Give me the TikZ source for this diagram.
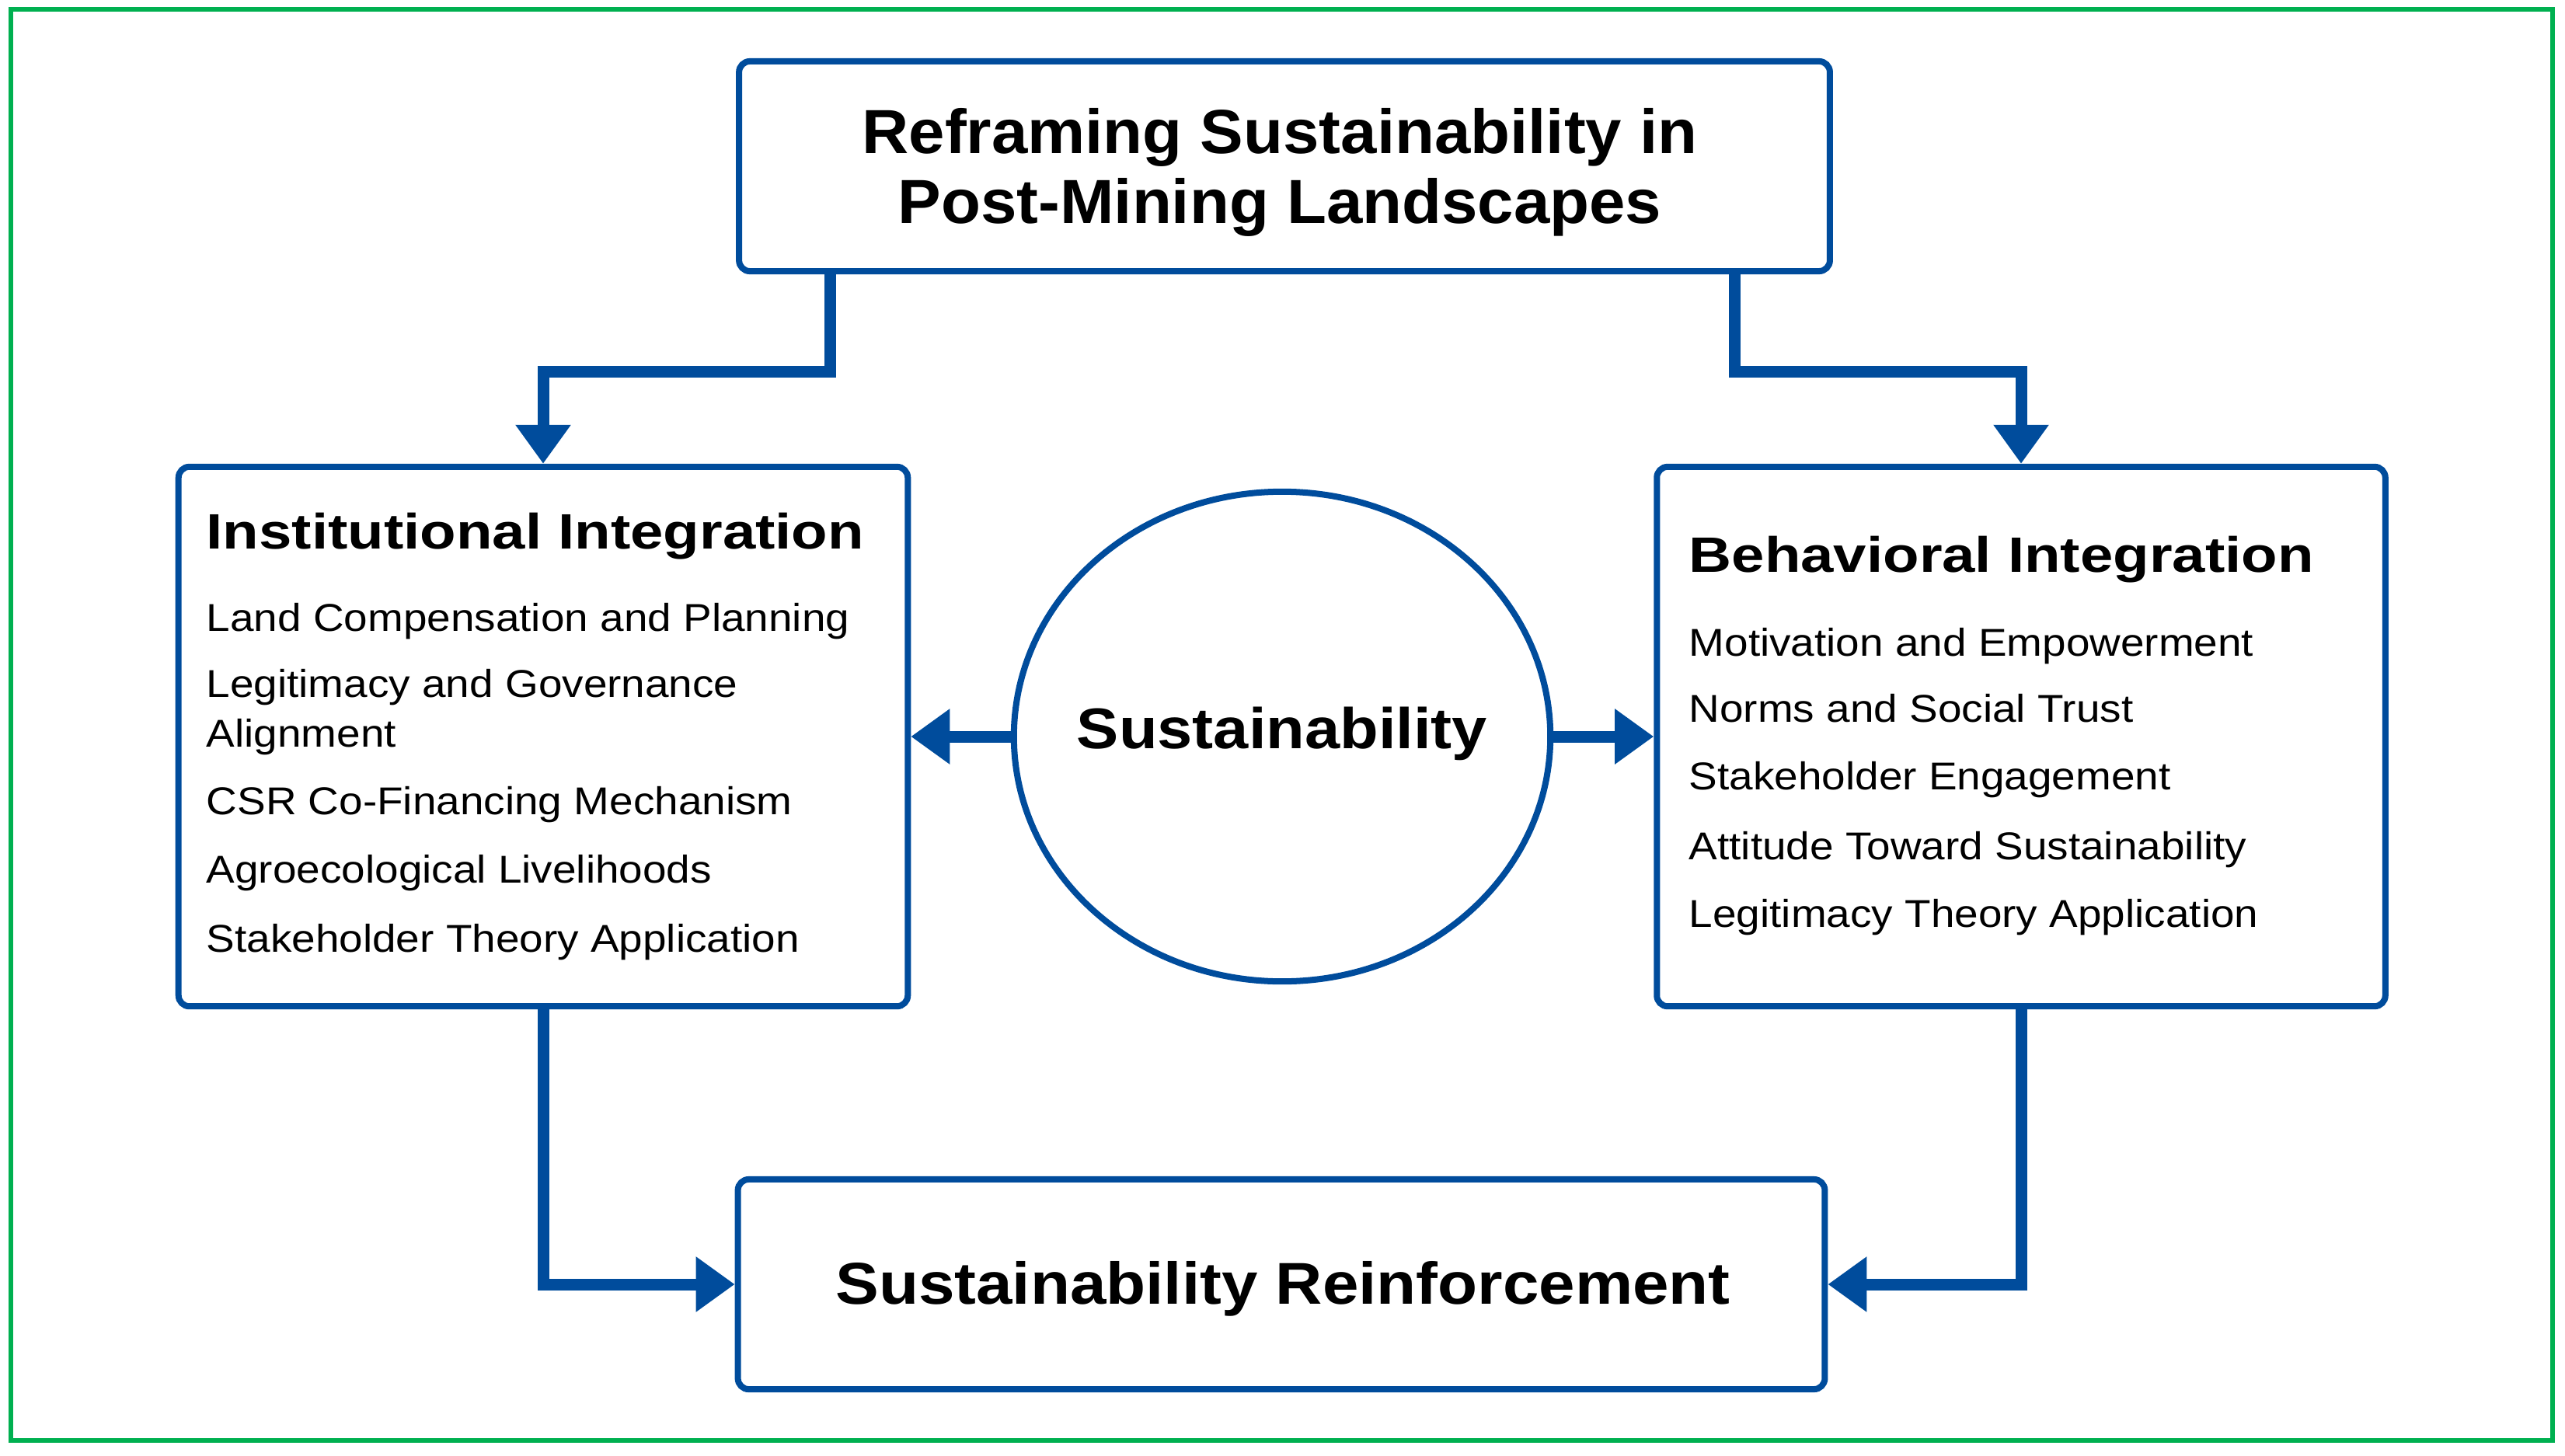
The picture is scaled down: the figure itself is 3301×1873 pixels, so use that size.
\documentclass[tikz,border=0pt]{standalone}
\usepackage{fontspec}
\setmainfont[FakeStretch=1.1]{Liberation Sans}
\newfontfamily\headfont[FakeStretch=1.19]{Liberation Sans}
\newfontfamily\titlefont[FakeStretch=1.04]{Liberation Sans}
\usetikzlibrary{arrows.meta,shapes.geometric}
\definecolor{frameblue}{RGB}{0,76,156}
\definecolor{framegreen}{RGB}{0,176,80}

\begin{document}
\begin{tikzpicture}[x=0.01cm,y=-0.01cm,
  box/.style={draw=frameblue,line width=0.08cm,rounded corners=0.14cm,fill=white,inner sep=0pt},
  link/.style={frameblue,line width=0.15cm,-{Triangle[length=0.5cm,width=0.68cm]}},
  head/.style={anchor=base west,inner sep=0pt,font=\headfont\bfseries\fontsize{18.2}{22}\selectfont},
  item/.style={anchor=base west,inner sep=0pt,font=\fontsize{14.2}{18.2}\selectfont}]
  \useasboundingbox (0,0) rectangle (3301,1873);
  \draw[framegreen,line width=0.06cm] (14,12) rectangle (3285,1854);

  \node[box,minimum width=14.03cm,minimum height=2.7cm] (top) at (1653,214) {};
  \node[align=center,inner sep=0pt,font=\titlefont\bfseries\fontsize{22.8}{25.6}\selectfont]
    (toptext) at (1647,222) {Reframing Sustainability in\\Post-Mining Landscapes};
  \node[box,minimum width=9.38cm,minimum height=6.94cm] (inst) at (699,948) {};
  \node[box,minimum width=9.37cm,minimum height=6.94cm] (beh) at (2601,948) {};
  \node[ellipse,draw=frameblue,line width=0.08cm,fill=white,inner sep=0pt,
    minimum width=6.9cm,minimum height=6.3cm] (sus) at (1650,948) {};
  \node[inner sep=0pt,font=\bfseries\fontsize{21}{25}\selectfont] (sustext) at (1650,944)
    {Sustainability};
  \node[box,minimum width=13.98cm,minimum height=2.7cm] (reinf) at (1649,1653) {};
  \node[inner sep=0pt,font=\bfseries\fontsize{21.6}{26}\selectfont] (reinftext) at (1651,1659)
    {Sustainability Reinforcement};

  \node[head] (insthead) at (265,706) {Institutional Integration};
  \node[item] (inst1) at (265,812) {Land Compensation and Planning};
  \node[item] (inst2) at (265,897) {Legitimacy and Governance};
  \node[item] (inst2b) at (265,961) {Alignment};
  \node[item] (inst3) at (265,1048) {CSR Co-Financing Mechanism};
  \node[item] (inst4) at (265,1136) {Agroecological Livelihoods};
  \node[item] (inst5) at (265,1225) {Stakeholder Theory Application};

  \node[head] (behhead) at (2173,736) {Behavioral Integration};
  \node[item] (beh1) at (2173,844) {Motivation and Empowerment};
  \node[item] (beh2) at (2173,929) {Norms and Social Trust};
  \node[item] (beh3) at (2173,1016) {Stakeholder Engagement};
  \node[item] (beh4) at (2173,1106) {Attitude Toward Sustainability};
  \node[item] (beh5) at (2173,1193) {Legitimacy Theory Application};

  \draw[link] ([xshift=-5.84cm]top.south) -- ++(0,125) -| (inst.north);
  \draw[link] ([xshift=5.79cm]top.south) -- ++(0,125) -| (beh.north);
  \draw[link] (sus.west) -- (inst.east);
  \draw[link] (sus.east) -- (beh.west);
  \draw[link] (inst.south) |- (reinf.west);
  \draw[link] (beh.south) |- (reinf.east);
\end{tikzpicture}
\end{document}
